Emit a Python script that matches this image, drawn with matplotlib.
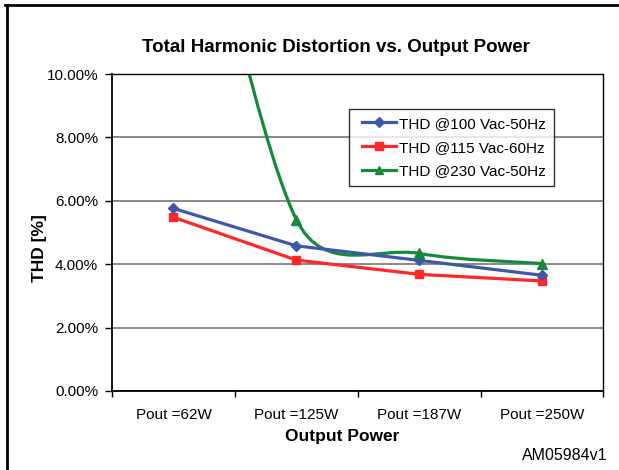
import numpy as np
import matplotlib
matplotlib.use('Agg')
import matplotlib.pyplot as plt
from matplotlib.path import Path
from matplotlib.patches import PathPatch
from matplotlib.lines import Line2D
from matplotlib.legend_handler import HandlerLine2D

plt.rcParams['font.family'] = ['Liberation Sans', 'DejaVu Sans']

# Dados (THD em %)
categorias = ['Pout =62W', 'Pout =125W', 'Pout =187W', 'Pout =250W']
thd_100 = [5.76, 4.58, 4.12, 3.65]
thd_115 = [5.48, 4.13, 3.68, 3.47]
thd_230 = [20.0, 5.41, 4.34, 4.02]  # primeiro ponto fora da escala (cortado)
rotulos = ['THD @100 Vac-50Hz', 'THD @115 Vac-60Hz', 'THD @230 Vac-50Hz']
y_ticks = [0, 2, 4, 6, 8, 10]

azul = '#3F57A9'
vermelho = '#FF2626'
verde = '#168A3C'

W, H = 619, 470
fig = plt.figure(figsize=(W / 100, H / 100), dpi=100)
ax = fig.add_axes([112 / W, 1 - 391 / H, 491.5 / W, 317 / H])

x = np.arange(len(categorias))
ax.set_xlim(-0.5, len(categorias) - 0.5)
ax.set_ylim(0, 10)

ax.plot(x, thd_100, color=azul, lw=2.3, marker='D', ms=5.5, zorder=4)
ax.plot(x, thd_115, color=vermelho, lw=2.3, marker='s', ms=6, zorder=3)
ax.plot(x, thd_230, color=verde, lw=0, marker='^', ms=6.5, zorder=5)


# linha suavizada estilo Excel (Bezier) para a série de 230 Vac
def curva_excel(xs, ys):
    pts = ax.transData.transform(np.column_stack([xs, ys]))
    n = len(pts)
    verts = [pts[0]]
    codes = [Path.MOVETO]
    for i in range(n - 1):
        p0 = pts[i - 1] if i > 0 else pts[i]
        p1 = pts[i]
        p2 = pts[i + 1]
        p3 = pts[i + 2] if i + 2 < n else pts[i + 1]
        d12 = np.hypot(*(p2 - p1))
        d02 = np.hypot(*(p2 - p0))
        d13 = np.hypot(*(p3 - p1))
        a = (p2 - p0) / 6
        if d02 / 6 > d12 / 2:
            a = (p2 - p0) * (d12 / 2) / d02
        b = (p3 - p1) / 6
        if d13 / 6 > d12 / 2:
            b = (p3 - p1) * (d12 / 2) / d13
        verts += [p1 + a, p2 - b, p2]
        codes += [Path.CURVE4] * 3
    verts = ax.transData.inverted().transform(np.array(verts))
    return Path(verts, codes)


ax.add_patch(PathPatch(curva_excel(x, thd_230), facecolor='none', edgecolor=verde,
                       lw=2.3, joinstyle='round', zorder=2))

# eixos e grade
ax.set_yticks(y_ticks)
ax.set_yticklabels([f'{v:.2f}%' for v in y_ticks])
ax.set_xticks(x)
ax.set_xticklabels(categorias)
ax.set_xticks(np.arange(len(categorias) + 1) - 0.5, minor=True)
ax.tick_params(axis='x', which='major', length=0, pad=12, labelsize=11)
ax.tick_params(axis='x', which='minor', length=4, width=1, direction='out')
ax.tick_params(axis='y', length=5, width=1, direction='out', pad=5, labelsize=11)
ax.yaxis.grid(True, color='#808080', lw=1.3)
ax.set_axisbelow(True)
for s in ax.spines.values():
    s.set_color('black')
    s.set_linewidth(1.0)
ax.spines['left'].set_linewidth(1.3)
ax.spines['bottom'].set_linewidth(1.3)

handles = [
    Line2D([], [], color=azul, lw=2.3, marker='D', ms=5),
    Line2D([], [], color=vermelho, lw=2.3, marker='s', ms=5.5),
    Line2D([], [], color=verde, lw=2.3, marker='^', ms=6),
]
leg = ax.legend(handles, rotulos, loc='upper left', bbox_to_anchor=(0.482, 0.8896),
                fontsize=11, frameon=True, fancybox=False, borderaxespad=0,
                handlelength=2.6, handletextpad=0.2, labelspacing=0.65,
                borderpad=0.5, numpoints=1,
                handler_map={Line2D: HandlerLine2D(xpad=0.33)})
leg.get_frame().set_edgecolor('black')
leg.get_frame().set_linewidth(1.0)

# textos
fig.text(335.5 / W, 1 - 47 / H, 'Total Harmonic Distortion vs. Output Power',
         ha='center', va='center', fontsize=13.5, fontweight='bold')
fig.text(342.5 / W, 1 - 436.5 / H, 'Output Power', ha='center', va='center',
         fontsize=12.5, fontweight='bold')
fig.text(39 / W, 1 - 248 / H, 'THD [%]', ha='center', va='center', rotation=90,
         fontsize=12.5, fontweight='bold')
fig.text(607 / W, 1 - 455 / H, 'AM05984v1', ha='right', va='center', fontsize=11.5)

# moldura externa
fig.add_artist(Line2D([5 / W, 1], [1 - 5 / H, 1 - 5 / H], color='black', lw=2,
                      transform=fig.transFigure))
fig.add_artist(Line2D([7 / W, 7 / W], [0, 1 - 5 / H], color='black', lw=2,
                      transform=fig.transFigure))

fig.savefig('out.png', dpi=100)
